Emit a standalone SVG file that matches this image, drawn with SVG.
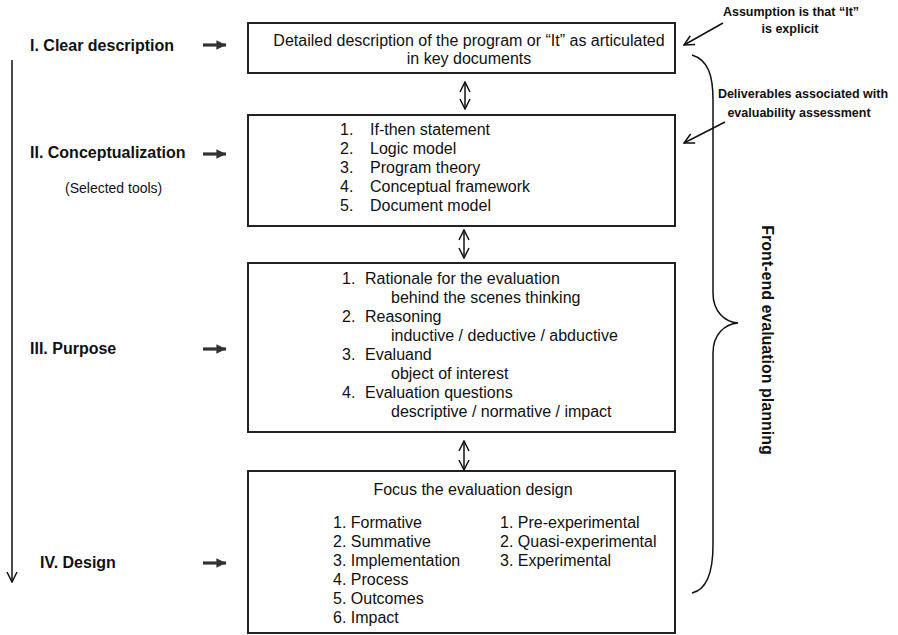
<svg xmlns="http://www.w3.org/2000/svg" width="898" height="635" viewBox="0 0 898 635">
  <defs>
    <style>
      text { font-family: "Liberation Sans", Arial, sans-serif; fill: #111; }
      .stage { font-size: 16px; font-weight: bold; }
      .body { font-size: 16px; }
      .small { font-size: 14px; }
      .note { font-size: 12.5px; font-weight: bold; }
      .box { fill: #fff; stroke: #222; stroke-width: 2; }
      .thin { fill: none; stroke: #111; stroke-width: 1.5; }
      .thick { fill: none; stroke: #333; stroke-width: 3.2; }
    </style>
    <marker id="open" viewBox="0 0 12 12" refX="11" refY="6" markerWidth="12" markerHeight="12" markerUnits="userSpaceOnUse" orient="auto-start-reverse">
      <path d="M1,1 L11,6 L1,11" fill="none" stroke="#111" stroke-width="1.5"/>
    </marker>
    <marker id="solid" viewBox="0 0 10 10" refX="9" refY="5" markerWidth="12" markerHeight="12" markerUnits="userSpaceOnUse" orient="auto">
      <path d="M1,1 L9,5 L1,9 Z" fill="#333"/>
    </marker>
  </defs>

  <rect width="898" height="635" fill="#fff"/>

  <!-- stage labels -->
  <g id="stage-1"><text class="stage" x="30" y="51">I. Clear description</text></g>
  <g id="stage-2">
    <text class="stage" x="30" y="158">II. Conceptualization</text>
    <text class="small" x="65" y="193">(Selected tools)</text>
  </g>
  <g id="stage-3"><text class="stage" x="30" y="354">III. Purpose</text></g>
  <g id="stage-4"><text class="stage" x="40" y="568">IV. Design</text></g>

  <!-- box 1 -->
  <g id="box-description">
    <rect class="box" x="248" y="23" width="427" height="50"/>
    <text class="body" x="469" y="46" text-anchor="middle">Detailed description of the program or “It” as articulated</text>
    <text class="body" x="469" y="64" text-anchor="middle">in key documents</text>
  </g>

  <!-- box 2 -->
  <g id="box-conceptualization">
    <rect class="box" x="248" y="115" width="427" height="111"/>
    <text class="body" x="340" y="135">1.</text><text class="body" x="370" y="135">If-then statement</text>
    <text class="body" x="340" y="154">2.</text><text class="body" x="370" y="154">Logic model</text>
    <text class="body" x="340" y="173">3.</text><text class="body" x="370" y="173">Program theory</text>
    <text class="body" x="340" y="192">4.</text><text class="body" x="370" y="192">Conceptual framework</text>
    <text class="body" x="340" y="211">5.</text><text class="body" x="370" y="211">Document model</text>
  </g>

  <!-- box 3 -->
  <g id="box-purpose">
    <rect class="box" x="248" y="263" width="427" height="169"/>
    <text class="body" x="342" y="284">1.</text><text class="body" x="365" y="284">Rationale for the evaluation</text>
    <text class="body" x="391" y="303">behind the scenes thinking</text>
    <text class="body" x="342" y="322">2.</text><text class="body" x="365" y="322">Reasoning</text>
    <text class="body" x="391" y="341">inductive / deductive / abductive</text>
    <text class="body" x="342" y="360">3.</text><text class="body" x="365" y="360">Evaluand</text>
    <text class="body" x="391" y="379">object of interest</text>
    <text class="body" x="342" y="398">4.</text><text class="body" x="365" y="398">Evaluation questions</text>
    <text class="body" x="391" y="417">descriptive / normative / impact</text>
  </g>

  <!-- box 4 -->
  <g id="box-design">
    <rect class="box" x="248" y="471" width="427" height="162"/>
    <text class="body" x="473" y="495" text-anchor="middle">Focus the evaluation design</text>
    <text class="body" x="333" y="528">1. Formative</text>
    <text class="body" x="333" y="547">2. Summative</text>
    <text class="body" x="333" y="566">3. Implementation</text>
    <text class="body" x="333" y="585">4. Process</text>
    <text class="body" x="333" y="604">5. Outcomes</text>
    <text class="body" x="333" y="623">6. Impact</text>
    <text class="body" x="500" y="528">1. Pre-experimental</text>
    <text class="body" x="500" y="547">2. Quasi-experimental</text>
    <text class="body" x="500" y="566">3. Experimental</text>
  </g>

  <!-- side notes -->
  <g id="note-assumption">
    <text class="note" x="791" y="16" text-anchor="middle">Assumption is that “It”</text>
    <text class="note" x="790" y="33" text-anchor="middle">is explicit</text>
  </g>
  <g id="note-deliverables">
    <text class="note" x="803" y="98" text-anchor="middle">Deliverables associated with</text>
    <text class="note" x="799" y="117" text-anchor="middle">evaluability assessment</text>
  </g>
  <g id="label-front-end">
    <text class="stage" transform="translate(762,340) rotate(90)" text-anchor="middle">Front-end evaluation planning</text>
  </g>

  <!-- connectors -->
  <g id="connectors">
    <!-- overall flow down the stages -->
    <line class="thin" x1="12" y1="60" x2="12" y2="582" marker-end="url(#open)"/>
    <!-- stage to box arrows -->
    <line class="thick" x1="203" y1="45" x2="226" y2="45" marker-end="url(#solid)"/>
    <line class="thick" x1="203" y1="154" x2="226" y2="154" marker-end="url(#solid)"/>
    <line class="thick" x1="203" y1="349" x2="226" y2="349" marker-end="url(#solid)"/>
    <line class="thick" x1="203" y1="563" x2="226" y2="563" marker-end="url(#solid)"/>
    <!-- two-way links between boxes -->
    <line class="thin" x1="465" y1="82" x2="465" y2="109" marker-start="url(#open)" marker-end="url(#open)"/>
    <line class="thin" x1="464" y1="230" x2="464" y2="258" marker-start="url(#open)" marker-end="url(#open)"/>
    <line class="thin" x1="464" y1="441" x2="464" y2="470" marker-start="url(#open)" marker-end="url(#open)"/>
    <!-- note pointers -->
    <line class="thin" x1="723" y1="23" x2="684" y2="45" marker-end="url(#open)"/>
    <line class="thin" x1="725" y1="122" x2="684" y2="143" marker-end="url(#open)"/>
    <!-- brace -->
    <path class="thin" d="M692,55 C708,60 713,75 713,100 L713,293 C713,312 725,322 738,323 C725,324 713,334 713,353 L713,545 C713,575 705,590 692,593"/>
  </g>
</svg>
